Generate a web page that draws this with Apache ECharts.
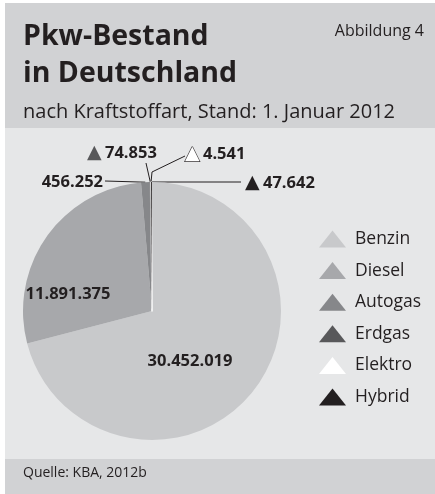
<!DOCTYPE html>
<html>
<head>
<meta charset="utf-8">
<script src="https://cdn.jsdelivr.net/npm/echarts@6/dist/echarts.min.js"></script>
<style>
  html, body { margin: 0; padding: 0; background: #fff; }
  #chart { width: 435px; height: 494px; }
</style>
</head>
<body>
<div id="chart"></div>
<script>
// Pkw-Bestand nach Kraftstoffart, 1.1.2012 (Quelle: KBA)
const fuels = ['Benzin', 'Diesel', 'Autogas', 'Erdgas', 'Elektro', 'Hybrid'];
const cars = [30452019, 11891375, 456252, 74853, 4541, 47642];
const fuelColors = ['#c8c9cb', '#a7a8ab', '#86878a', '#58585a', '#ffffff', '#231f20'];

// where each value label sits, and the bend points of its leader line
const labelPos = [
  { x: 190, y: 361, align: 'center' },
  { x: 68, y: 294, align: 'center' },
  { x: 103, y: 182, align: 'right', line: [[105, 181], [105, 181]] },
  { x: 87, y: 153, align: 'left', line: [[146, 163], [146, 163]] },
  { x: 185, y: 154, align: 'left', line: [[185, 156], [152, 172]] },
  { x: 245, y: 183, align: 'left', line: [[241, 182], [152, 182]] },
];

const font = '"Open Sans", "Noto Sans", sans-serif';
const ink = '#231f20';

function fmt(v) {
  return String(v).replace(/\B(?=(\d{3})+(?!\d))/g, '.');
}

const rich = {
  n: { fontFamily: font, fontSize: 16.5, fontWeight: 'bold', color: ink },
};
fuelColors.forEach((c, i) => {
  rich['t' + i] = {
    fontFamily: 'DejaVu Sans', fontSize: 19, color: c,
    textBorderColor: i === 4 ? ink : 'transparent', textBorderWidth: i === 4 ? 1.2 : 0,
  };
});

const chart = echarts.init(document.getElementById('chart'));

chart.setOption({
  animation: false,
  graphic: [
    { type: 'rect', z: 0, shape: { x: 5, y: 3, width: 430, height: 125 }, style: { fill: '#d1d2d4' } },
    { type: 'rect', z: 0, shape: { x: 5, y: 128, width: 430, height: 331 }, style: { fill: '#e6e7e8' } },
    { type: 'rect', z: 0, shape: { x: 5, y: 459, width: 430, height: 35 }, style: { fill: '#d1d2d4' } },
    { type: 'text', z: 1, x: 23, y: 37, style: { text: 'Pkw-Bestand', font: 'bold 28.5px ' + font, fill: ink, textVerticalAlign: 'middle' } },
    { type: 'text', z: 1, x: 23, y: 74, style: { text: 'in Deutschland', font: 'bold 28.5px ' + font, fill: ink, textVerticalAlign: 'middle' } },
    { type: 'text', z: 1, x: 424, y: 31, style: { text: 'Abbildung 4', font: '16px ' + font, fill: ink, textAlign: 'right', textVerticalAlign: 'middle' } },
    { type: 'text', z: 1, x: 23, y: 112, style: { text: 'nach Kraftstoffart, Stand: 1. Januar 2012', font: '20px ' + font, fill: ink, textVerticalAlign: 'middle' } },
    { type: 'text', z: 1, x: 23, y: 473, style: { text: 'Quelle: KBA, 2012b', font: '14px ' + font, fill: ink, textVerticalAlign: 'middle' } },
  ],
  legend: {
    orient: 'vertical',
    left: 314,
    top: 225,
    icon: 'triangle',
    symbolKeepAspect: false,
    itemWidth: 27,
    itemHeight: 17,
    itemGap: 13.6,
    itemStyle: { borderWidth: 0 },
    textStyle: { fontFamily: font, fontSize: 17.5, color: ink, padding: [0, 0, 0, 4] },
    data: fuels,
  },
  series: [{
    type: 'pie',
    center: [152, 311],
    radius: 129,
    startAngle: 90,
    clockwise: true,
    avoidLabelOverlap: false,
    color: fuelColors,
    data: fuels.map((name, i) => ({
      name,
      value: cars[i],
      itemStyle: i === 4 ? { borderColor: '#fff', borderWidth: 1.5 } : {},
      label: { position: i < 2 ? 'inside' : 'outside' },
      labelLine: { show: i >= 2, length: 8, length2: 8 },
    })),
    label: {
      rich,
      textBorderWidth: 0,
      formatter: p => p.dataIndex >= 3
        ? `{t${p.dataIndex}|▲} {n|${fmt(p.value)}}`
        : `{n|${fmt(p.value)}}`,
    },
    labelLine: { lineStyle: { color: ink, width: 1 } },
    labelLayout: p => {
      const L = labelPos[p.dataIndex];
      const out = { x: L.x, y: L.y, align: L.align, verticalAlign: 'middle' };
      if (L.line && p.labelLinePoints) {
        out.labelLinePoints = [L.line[0], L.line[1], p.labelLinePoints[0]];
      }
      return out;
    },
    emphasis: { disabled: true },
  }],
});
</script>
</body>
</html>
